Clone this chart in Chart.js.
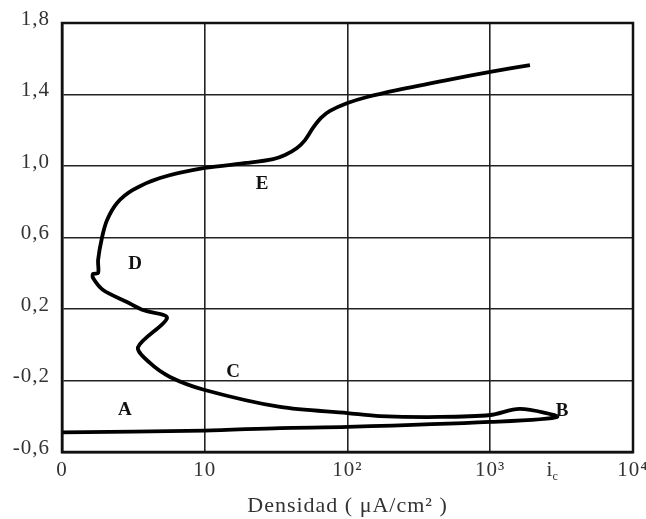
<!DOCTYPE html>
<html>
<head>
<meta charset="utf-8">
<script src="https://cdn.jsdelivr.net/npm/chart.js@4/dist/chart.umd.min.js"></script>
<style>
  html, body { margin: 0; padding: 0; background: #fff; }
  #wrap { width: 646px; height: 519px; }
</style>
</head>
<body>
<div id="wrap"><canvas id="c" width="646" height="519"></canvas></div>
<script>
// Anodic polarization curve: current density (log) vs potential
const curveX = [1, 10, 33.7, 100, 1000, 2940, 1616, 1000, 445, 169, 100, 33.7, 10, 5.71, 4.13, 3.41,
  5.44, 3.69, 2.85, 1.94, 1.65, 1.65, 1.79, 1.79, 1.91, 2.07, 2.43, 3.14, 4.86, 10, 19.8, 30.1,
  36.5, 44.3, 50.4, 57.3, 65.2, 75.4, 100, 137, 222, 498, 1000, 1898];
const curveY = [-0.49, -0.48, -0.466, -0.46, -0.432, -0.404, -0.359, -0.393, -0.404, -0.399, -0.382,
  -0.348, -0.253, -0.18, -0.102, -0.013, 0.15, 0.194, 0.239, 0.306, 0.373, 0.396, 0.401, 0.474,
  0.603, 0.698, 0.793, 0.866, 0.933, 0.989, 1.017, 1.039, 1.062, 1.101, 1.145, 1.213, 1.269, 1.308,
  1.352, 1.386, 1.425, 1.481, 1.526, 1.565];

// Axis ticks
const xTicks = [1, 10, 100, 1000, 10000];
const xTickLabels = ['0', '10', '10²', '10³', '10⁴'];
const yTicks = [-0.6, -0.2, 0.2, 0.6, 1.0, 1.4, 1.8];

// Critical current density marker on the x axis
const icValue = 2600;

// Region letters along the curve
const markNames = ['A', 'B', 'C', 'D', 'E'];
const markX = [2.76, 3184, 15.8, 3.25, 25.2];
const markY = [-0.365, -0.371, -0.152, 0.452, 0.899];

const points = curveX.map((x, i) => ({ x: x, y: curveY[i] }));

const serif = '"Liberation Serif", "DejaVu Serif", serif';
const textColor = '#333';

const frameAndLabels = {
  id: 'frameAndLabels',
  beforeDraw(chart) {
    chart.ctx.letterSpacing = '1px';
  },
  afterDraw(chart) {
    const { ctx, chartArea: a, scales } = chart;
    ctx.save();
    // frame around the plot
    ctx.strokeStyle = '#111';
    ctx.lineWidth = 2.5;
    ctx.strokeRect(a.left, a.top, a.right - a.left, a.bottom - a.top);

    // region letters
    ctx.letterSpacing = '0px';
    ctx.fillStyle = '#111';
    ctx.font = 'bold 19px ' + serif;
    ctx.textAlign = 'center';
    ctx.textBaseline = 'middle';
    markNames.forEach((n, i) => {
      ctx.fillText(n, scales.x.getPixelForValue(markX[i]), scales.y.getPixelForValue(markY[i]));
    });

    // i_c label with subscript
    const px = scales.x.getPixelForValue(icValue);
    ctx.fillStyle = textColor;
    ctx.textBaseline = 'alphabetic';
    ctx.font = '21px ' + serif;
    ctx.textAlign = 'center';
    ctx.fillText('i', px, a.bottom + 24);
    ctx.font = '12px ' + serif;
    ctx.textAlign = 'left';
    ctx.fillText('c', px + 3, a.bottom + 28);
    ctx.restore();
  }
};

new Chart(document.getElementById('c'), {
  type: 'scatter',
  data: {
    datasets: [{
      data: points,
      showLine: true,
      borderColor: '#000',
      borderWidth: 3.8,
      pointRadius: 0,
      tension: 0.3,
      fill: false
    }]
  },
  options: {
    responsive: false,
    animation: false,
    layout: { padding: { left: 0, right: 13, top: 23, bottom: 0 } },
    plugins: { legend: { display: false }, tooltip: { enabled: false } },
    scales: {
      x: {
        type: 'logarithmic',
        min: 1,
        max: 10000,
        afterBuildTicks: s => { s.ticks = xTicks.map(v => ({ value: v })); },
        afterFit: s => { s.height = 67; s.paddingLeft = 0; s.paddingRight = 0; },
        ticks: {
          autoSkip: false,
          maxRotation: 0,
          padding: 6,
          color: textColor,
          font: { family: serif, size: 21 },
          callback: (v, i) => xTickLabels[i]
        },
        grid: { color: '#222', lineWidth: 1.6, drawTicks: false },
        border: { color: '#111', width: 2.5 },
        title: {
          display: true,
          text: 'Densidad ( μA/cm² )',
          color: textColor,
          font: { family: serif, size: 22 },
          padding: { top: 4, bottom: 0 }
        }
      },
      y: {
        type: 'linear',
        min: -0.6,
        max: 1.8,
        afterBuildTicks: s => { s.ticks = yTicks.map(v => ({ value: v })); },
        afterFit: s => { s.width = 62; s.paddingTop = 0; s.paddingBottom = 0; },
        ticks: {
          padding: 12,
          labelOffset: -4,
          color: textColor,
          font: { family: serif, size: 21 },
          callback: v => v.toFixed(1).replace('.', ',')
        },
        grid: { color: '#222', lineWidth: 1.6, drawTicks: false },
        border: { color: '#111', width: 2.5 }
      }
    }
  },
  plugins: [frameAndLabels]
});
</script>
</body>
</html>
